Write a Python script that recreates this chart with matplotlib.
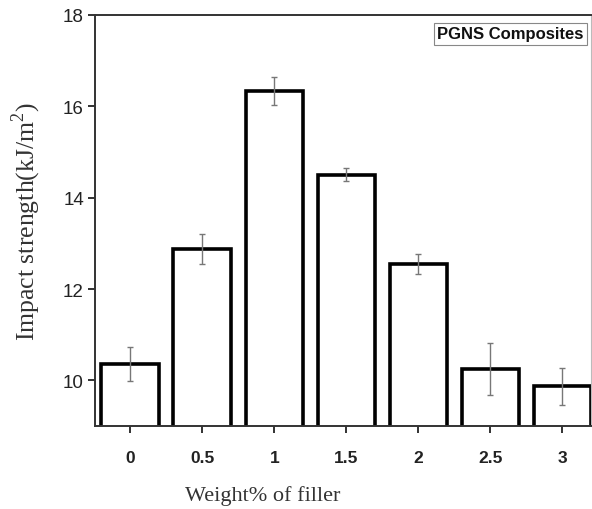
import matplotlib
matplotlib.use("Agg")
import matplotlib.pyplot as plt
import numpy as np

plt.rcParams["mathtext.fontset"] = "custom"
plt.rcParams["mathtext.rm"] = "Liberation Serif"

categories = ["0", "0.5", "1", "1.5", "2", "2.5", "3"]
strength = [10.35, 12.88, 16.33, 14.50, 12.55, 10.24, 9.87]
strength_err = [0.37, 0.33, 0.31, 0.14, 0.22, 0.57, 0.40]
yticks = [10, 12, 14, 16, 18]

fig = plt.figure(figsize=(5.92, 5.10), dpi=100)
ax = fig.add_axes([0.1605, 0.1627, 0.838, 0.806])

x = np.arange(len(categories))
ax.bar(x, strength, width=0.8, bottom=0, color="white", edgecolor="black",
       linewidth=2.6, zorder=2)
ax.errorbar(x, strength, yerr=strength_err, fmt="none", ecolor="#777777",
            elinewidth=1.0, capsize=2.5, capthick=1.0, zorder=3)

ax.set_xlim(-0.49, 6.4)
ax.set_ylim(9, 18)
ax.set_xticks(x)
ax.set_xticklabels(categories, fontfamily="Liberation Sans", fontweight="bold",
                   fontsize=12.5, color="#111111")
ax.set_yticks(yticks)
ax.set_yticklabels([str(v) for v in yticks], fontfamily="Liberation Sans",
                   fontsize=13.5, color="#222222")
ax.tick_params(axis="both", direction="out", length=5, width=1.3, colors="#222222")
ax.tick_params(axis="x", pad=12)
ax.tick_params(axis="y", pad=3)

for side in ["left", "bottom", "top"]:
    ax.spines[side].set_linewidth(1.4)
    ax.spines[side].set_color("#333333")
ax.spines["right"].set_color("#bbbbbb")
ax.spines["right"].set_linewidth(0.8)

ax.set_xlabel("Weight% of filler", fontfamily="Liberation Serif", fontsize=16,
              color="#333333")
ax.xaxis.set_label_coords(0.337, -0.143)
ax.set_ylabel("Impact strength(kJ/m$^2$)", fontfamily="Liberation Serif",
              fontsize=18.5, color="#333333")
ax.yaxis.set_label_coords(-0.105, 0.5)

ax.text(0.985, 0.972, "PGNS Composites", transform=ax.transAxes,
        ha="right", va="top", fontfamily="Liberation Sans", fontweight="bold",
        fontsize=12, color="#111111",
        bbox=dict(boxstyle="square,pad=0.22", facecolor="white",
                  edgecolor="#888888", linewidth=0.8))

fig.savefig("out.png", dpi=100, facecolor="white")
